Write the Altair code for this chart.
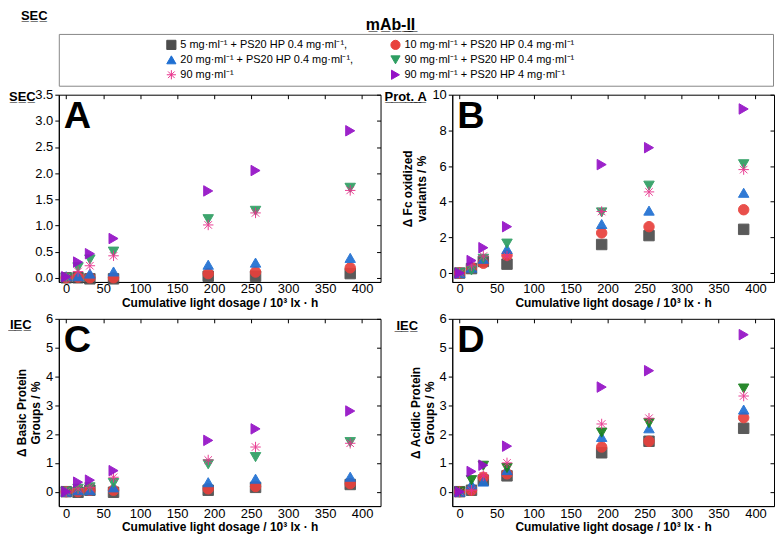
import altair as alt
import pandas as pd

FONT = "Liberation Sans"

# ---------------- data ----------------
dose = [0, 16, 32, 64, 192, 256, 384]

series_keys = ["s5", "s10", "s20", "s90ps", "s90", "s90ps4"]
series_labels = [
    "5 mg·ml⁻¹ + PS20 HP 0.4 mg·ml⁻¹,",
    "10 mg·ml⁻¹ + PS20 HP 0.4 mg·ml⁻¹",
    "20 mg·ml⁻¹ + PS20 HP 0.4 mg·ml⁻¹,",
    "90 mg·ml⁻¹ + PS20 HP 0.4 mg·ml⁻¹",
    "90 mg·ml⁻¹",
    "90 mg·ml⁻¹ + PS20 HP 4 mg·ml⁻¹",
]
legend_col = [0, 1, 0, 1, 0, 1]
legend_row = [0, 0, 1, 1, 2, 2]

# Panel A - SEC
sec_s5 = [0.0, 0.0, -0.02, -0.02, 0.03, 0.03, 0.08]
sec_s10 = [0.0, 0.01, 0.0, 0.0, 0.08, 0.11, 0.19]
sec_s20 = [0.03, 0.03, 0.08, 0.12, 0.25, 0.29, 0.38]
sec_s90ps = [0.0, 0.2, 0.35, 0.5, 1.12, 1.28, 1.72]
sec_s90 = [0.0, 0.12, 0.23, 0.42, 1.01, 1.24, 1.67]
sec_s90ps4 = [0.02, 0.3, 0.46, 0.75, 1.66, 2.05, 2.81]

# Panel B - Prot. A (Fc oxidized variants / %)
pa_s5 = [0.0, 0.25, 0.65, 0.5, 1.6, 2.1, 2.45]
pa_s10 = [0.0, 0.3, 0.55, 1.0, 2.25, 2.6, 3.55]
pa_s20 = [0.0, 0.3, 0.8, 1.35, 2.75, 3.5, 4.5]
pa_s90ps = [0.0, 0.15, 0.8, 1.65, 3.4, 4.9, 6.1]
pa_s90 = [0.0, 0.4, 0.95, 0.95, 3.45, 4.55, 5.8]
pa_s90ps4 = [0.0, 0.7, 1.42, 2.6, 6.08, 7.03, 9.2]

# Panel C - IEC basic groups / %
bas_s5 = [0.0, -0.02, 0.05, -0.02, 0.05, 0.15, 0.25]
bas_s10 = [0.0, 0.0, 0.05, 0.05, 0.1, 0.18, 0.28]
bas_s20 = [0.0, 0.05, 0.05, 0.15, 0.33, 0.45, 0.52]
bas_s90ps = [0.0, 0.1, 0.15, 0.3, 0.95, 1.2, 1.72]
bas_s90 = [0.0, 0.1, 0.15, 0.5, 1.1, 1.55, 1.68]
bas_s90ps4 = [0.0, 0.33, 0.4, 0.73, 1.78, 2.18, 2.8]

# Panel D - IEC acidic groups / %
aci_s5 = [0.0, 0.05, 0.4, 0.55, 1.35, 1.75, 2.2]
aci_s10 = [0.0, 0.05, 0.5, 0.62, 1.55, 1.75, 2.57]
aci_s20 = [0.0, 0.25, 0.35, 0.75, 1.9, 2.2, 2.85]
aci_s90ps = [0.0, 0.4, 0.9, 0.82, 2.05, 2.38, 3.58]
aci_s90 = [0.0, 0.05, 0.55, 1.0, 2.35, 2.55, 3.32]
aci_s90ps4 = [0.0, 0.7, 0.92, 1.58, 3.63, 4.2, 5.45]

x_ticks = [0, 50, 100, 150, 200, 250, 300, 350, 400]

# ---------------- styles ----------------
ASTERISK = "M-1,0L1,0M0,-1L0,1M-0.72,-0.72L0.72,0.72M-0.72,0.72L0.72,-0.72"
shapes = ["square", "circle", "triangle-up", "triangle-down", ASTERISK, "triangle-right"]
colors_abc = ["#4d4d4d", "#e8413c", "#1f6fd2", "#2e9e62", "#e8318c", "#9410c6"]
colors_d = ["#4d4d4d", "#e8413c", "#1f6fd2", "#17801c", "#e8318c", "#9410c6"]

PW, PH = 323, 188
X_TITLE = "Cumulative light dosage / 10³ lx · h"


def long_df(vals):
    rows = []
    for i, (k, v) in enumerate(zip(series_keys, vals)):
        for d, y in zip(dose, v):
            rows.append({"dose": d, "value": y, "series": k, "idx": i})
    return pd.DataFrame(rows)


def label_layer(text, x, y, size):
    return alt.Chart(pd.DataFrame({"t": [text]})).mark_text(
        font=FONT, fontSize=size, fontWeight="bold", align="left",
        baseline="alphabetic", color="black"
    ).encode(x=alt.value(x), y=alt.value(y), text="t:N")


def panel(vals, ydom, yticks, yfmt, ytitle, letter, tag, tag_x, tag_y, colors):
    df = long_df(vals)
    xs = alt.Scale(domain=[-10, 425], nice=False, zero=False)
    ys = alt.Scale(domain=ydom, nice=False, zero=False)
    pts = alt.Chart(df).mark_point(
        filled=True, size=110, opacity=0.92, strokeWidth=1
    ).encode(
        x=alt.X("dose:Q", scale=xs,
                axis=alt.Axis(values=x_ticks, title=X_TITLE, ticks=False,
                              labelPadding=1, titlePadding=2)),
        y=alt.Y("value:Q", scale=ys,
                axis=alt.Axis(values=yticks, format=yfmt, title=ytitle)),
        fill=alt.Color("series:N", scale=alt.Scale(domain=series_keys, range=colors), legend=None),
        stroke=alt.Color("series:N", scale=alt.Scale(domain=series_keys, range=colors), legend=None),
        shape=alt.Shape("series:N", scale=alt.Scale(domain=series_keys, range=shapes), legend=None),
        order=alt.Order("idx:Q"),
    )
    # mirrored inward ticks on the top and right edges of the frame
    mirror = alt.Chart(df).mark_point(opacity=0).encode(
        x=alt.X("dose:Q", scale=xs,
                axis=alt.Axis(orient="top", values=x_ticks, labels=False, domain=False,
                              title="", tickSize=4, offset=-4)),
        y=alt.Y("value:Q", scale=ys,
                axis=alt.Axis(orient="right", values=yticks, labels=False, domain=False,
                              title="", tickSize=4, offset=-4)),
    )
    let = label_layer(letter, 5, 33, 38)
    tg = label_layer(tag, tag_x, tag_y, 13)
    return alt.layer(pts, mirror, let, tg).resolve_axis(
        x="independent", y="independent"
    ).properties(width=PW, height=PH)


pA = panel([sec_s5, sec_s10, sec_s20, sec_s90ps, sec_s90, sec_s90ps4],
           [-0.08, 3.5], [0, 0.5, 1, 1.5, 2, 2.5, 3, 3.5], ".1f", "",
           "A", "S̲E̲C̲", -50, 6, colors_abc)
pB = panel([pa_s5, pa_s10, pa_s20, pa_s90ps, pa_s90, pa_s90ps4],
           [-0.5, 10], [0, 2, 4, 6, 8, 10], "d", ["Δ Fc oxidized", "variants / %"],
           "B", "P̲r̲o̲t̲.̲ ̲A̲", -68, 6, colors_abc)
pC = panel([bas_s5, bas_s10, bas_s20, bas_s90ps, bas_s90, bas_s90ps4],
           [-0.5, 6], [0, 1, 2, 3, 4, 5, 6], "d", ["Δ Basic Protein", "Groups / %"],
           "C", "I̲E̲C̲", -49, 10, colors_abc)
pD = panel([aci_s5, aci_s10, aci_s20, aci_s90ps, aci_s90, aci_s90ps4],
           [-0.5, 6], [0, 1, 2, 3, 4, 5, 6], "d", ["Δ Acidic Protein", "Groups / %"],
           "D", "I̲E̲C̲", -56, 11, colors_d)

# ---------------- legend header ----------------
leg_df = pd.DataFrame({"series": series_keys, "label": series_labels,
                       "col": legend_col, "row": legend_row})
LW, LH = 717, 52
lx = alt.X("col:Q", scale=alt.Scale(domain=[0, 1], range=[113, 338]), axis=None)
ly = alt.Y("row:Q", scale=alt.Scale(domain=[0, 2], range=[11, 41]), axis=None)
leg_pts = alt.Chart(leg_df).mark_point(filled=True, size=85, opacity=1, strokeWidth=1).encode(
    x=lx, y=ly,
    fill=alt.Color("series:N", scale=alt.Scale(domain=series_keys, range=colors_abc), legend=None),
    stroke=alt.Color("series:N", scale=alt.Scale(domain=series_keys, range=colors_abc), legend=None),
    shape=alt.Shape("series:N", scale=alt.Scale(domain=series_keys, range=shapes), legend=None),
)
leg_txt = alt.Chart(leg_df).mark_text(font=FONT, fontSize=11, align="left", dx=9,
                                      baseline="middle", color="black").encode(
    x=lx, y=ly, text="label:N")
hdr_sec = label_layer("S̲E̲C̲", -38, -14, 13)
hdr_title = alt.Chart(pd.DataFrame({"t": ["m̲A̲b̲-̲I̲I̲"]})).mark_text(
    font=FONT, fontSize=16, fontWeight="bold", align="center", baseline="alphabetic",
    color="black").encode(x=alt.value(333), y=alt.value(-4), text="t:N")

header = alt.layer(leg_pts, leg_txt, hdr_sec, hdr_title).properties(
    width=LW, height=LH, view=alt.ViewBackground(stroke="#888888", strokeWidth=1)
)

grid = alt.concat(pA, pB, pC, pD, columns=2, spacing=2)
grid = grid.resolve_scale(fill="independent", stroke="independent", shape="independent")

chart = alt.vconcat(header, grid, spacing=1).properties(padding=0).configure(
    font=FONT
).configure_view(
    stroke="black", strokeWidth=1
).configure_axis(
    grid=False, domainColor="black", tickColor="black", tickSize=4,
    labelFont=FONT, labelFontSize=13, labelColor="black", labelPadding=2,
    titleFont=FONT, titleFontSize=12, titleFontWeight="bold", titleColor="black",
    titlePadding=3, titleLineHeight=14
).configure_concat(spacing=2)

chart.save("out.html", embed_options={"renderer": "svg", "actions": False})
